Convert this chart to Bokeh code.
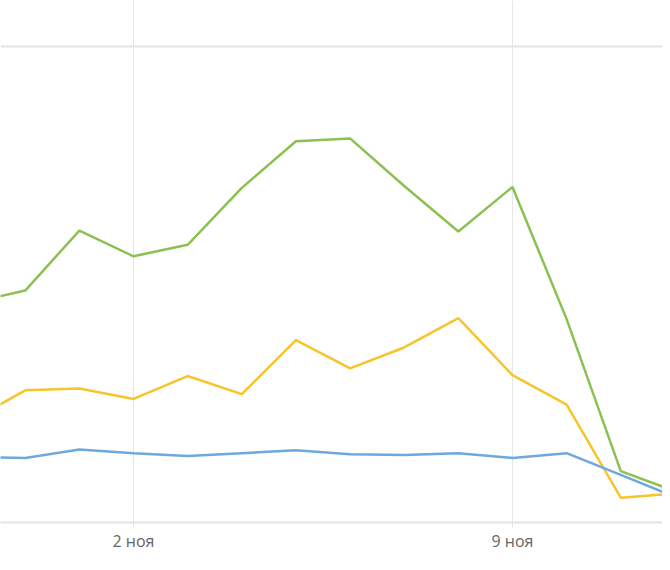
import pandas as pd
from bokeh.plotting import figure
from bokeh.models import FixedTicker, Range1d
from bokeh.embed import file_html
from bokeh.resources import INLINE

# Data (daily values)
dates = ["2024-10-30", "2024-10-31", "2024-11-01", "2024-11-02", "2024-11-03",
         "2024-11-04", "2024-11-05", "2024-11-06", "2024-11-07", "2024-11-08",
         "2024-11-09", "2024-11-10", "2024-11-11", "2024-11-12"]
green = [92.2, 97.4, 122.6, 111.8, 116.6, 140.5, 160.1, 161.3, 141.3, 122.2,
         140.9, 85.4, 21.6, 13.2]
yellow = [42.7, 55.5, 56.3, 51.9, 61.5, 53.9, 76.6, 64.7, 73.5, 85.8,
          61.9, 49.5, 10.4, 12.2]
blue = [27.5, 27.1, 30.7, 29.1, 27.9, 29.1, 30.3, 28.7, 28.3, 29.1,
        27.1, 29.1, 20.0, 10.8]
tick_dates = ["2024-11-02", "2024-11-09"]
tick_labels = ["2 ноя", "9 ноя"]
grid_top = 200

ref = pd.Timestamp("2024-11-02")
x = [(pd.Timestamp(d) - ref).days for d in dates]
tick_x = [(pd.Timestamp(d) - ref).days for d in tick_dates]

p = figure(width=662, height=554, output_backend="svg", toolbar_location=None,
           x_range=Range1d(-2.457, 9.771), y_range=Range1d(0, 219.2),
           min_border_left=0, min_border_right=0, min_border_top=0, min_border_bottom=28)
p.outline_line_color = None
p.background_fill_color = "white"
p.border_fill_color = "white"

p.line(x, green, line_color="#8cc152", line_width=2.5)
p.line(x, yellow, line_color="#f6c52c", line_width=2.5)
p.line(x, blue, line_color="#6fa8dc", line_width=2.5)

p.yaxis.visible = False
p.yaxis.ticker = FixedTicker(ticks=[grid_top])
p.ygrid.grid_line_color = "#e3e3e3"
p.ygrid.grid_line_width = 2

p.xaxis.ticker = FixedTicker(ticks=tick_x)
p.xaxis.major_label_overrides = {tick_x[i]: tick_labels[i] for i in range(len(tick_x))}
p.xaxis.major_label_text_font = "Open Sans"
p.xaxis.major_label_text_font_size = "16px"
p.xaxis.major_label_text_color = "#666666"
p.xaxis.major_label_standoff = 2
p.xaxis.major_tick_out = 5
p.xaxis.major_tick_in = 0
p.xaxis.minor_tick_out = 0
p.xaxis.minor_tick_in = 0
p.xaxis.major_tick_line_color = "#e3e3e3"
p.xaxis.axis_line_color = "#e3e3e3"
p.xaxis.axis_line_width = 2
p.xgrid.grid_line_color = "#e6e6e6"
p.xgrid.grid_line_width = 1

open("out.html", "w").write(file_html(p, INLINE))
